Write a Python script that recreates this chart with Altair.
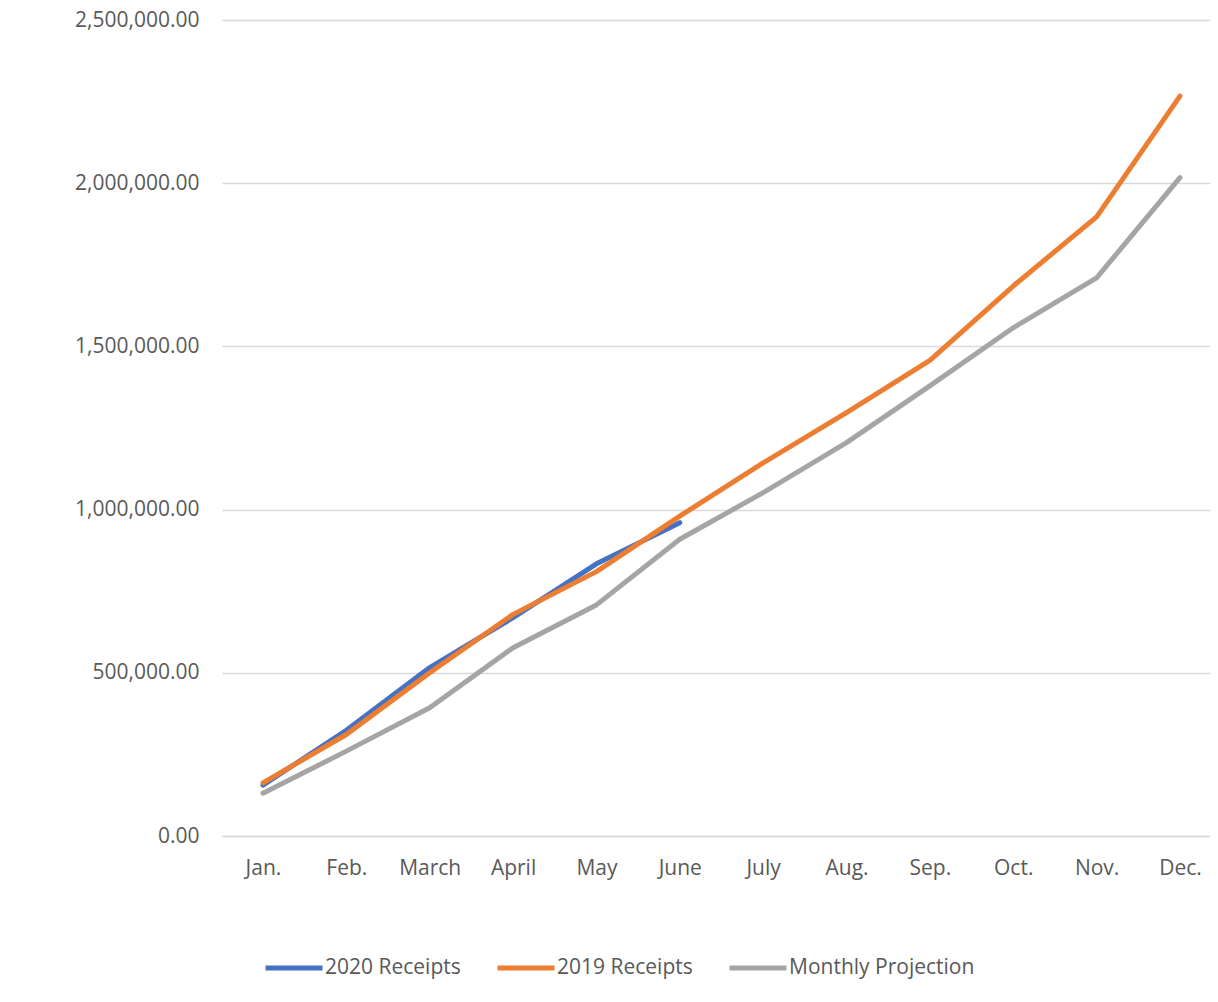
import altair as alt
import pandas as pd

months = ["Jan.", "Feb.", "March", "April", "May", "June",
          "July", "Aug.", "Sep.", "Oct.", "Nov.", "Dec."]
receipts_2020 = [156000, 324000, 516000, 669000, 834000, 960000]
receipts_2019 = [163000, 311000, 500000, 679000, 810000, 980000,
                 1143000, 1297000, 1457000, 1685000, 1897000, 2267000]
projection = [131000, 260000, 393000, 577000, 708000, 909000,
              1052000, 1205000, 1379000, 1557000, 1710000, 2017000]
series_names = ["2020 Receipts", "2019 Receipts", "Monthly Projection"]
series_colors = ["#4472C4", "#ED7D31", "#A5A5A5"]
y_ticks = [0, 500000, 1000000, 1500000, 2000000, 2500000]

rows = []
for name, vals in zip(series_names, [receipts_2020, receipts_2019, projection]):
    for i, v in enumerate(vals):
        rows.append({"Month": months[i], "Series": name, "Value": v, "idx": i})
df = pd.DataFrame(rows)

FONT = "Open Sans"
TXT = "#595959"
GRID = "#D9D9D9"

chart = alt.Chart(df).mark_line(
    strokeWidth=5, strokeCap="round", strokeJoin="round"
).encode(
    x=alt.X("Month:N", sort=months, title=None,
            scale=alt.Scale(type="point", padding=0.426, align=0.577),
            axis=alt.Axis(labelAngle=0, ticks=False, tickSize=0, domain=True,
                          domainColor=GRID, domainWidth=1.3,
                          labelFont=FONT, labelFontSize=21, labelColor=TXT,
                          labelPadding=21)),
    y=alt.Y("Value:Q", title=None,
            scale=alt.Scale(domain=[0, 2500000], nice=False),
            axis=alt.Axis(values=y_ticks, format=",.2f", ticks=False, tickSize=0,
                          domain=False, grid=True, gridColor=GRID, gridWidth=1.3,
                          labelFont=FONT, labelFontSize=21, labelColor=TXT,
                          labelPadding=23)),
    color=alt.Color("Series:N",
                    scale=alt.Scale(domain=series_names, range=series_colors),
                    legend=alt.Legend(orient="none", legendX=41, legendY=917,
                                      direction="horizontal", columns=3,
                                      title=None, symbolType="stroke",
                                      symbolSize=3249, symbolStrokeWidth=5,
                                      labelFont=FONT, labelFontSize=21,
                                      labelColor=TXT, labelOffset=0,
                                      labelLimit=400,
                                      columnPadding=26, padding=0)),
    order="idx:Q",
).properties(
    width=988, height=816,
    autosize=alt.AutoSizeParams(type="none"),
    padding={"left": 214, "top": 12, "right": 0, "bottom": 150},
    background="white",
).configure_view(stroke=None)

chart.save("out.html", embed_options={"renderer": "svg", "actions": False})
